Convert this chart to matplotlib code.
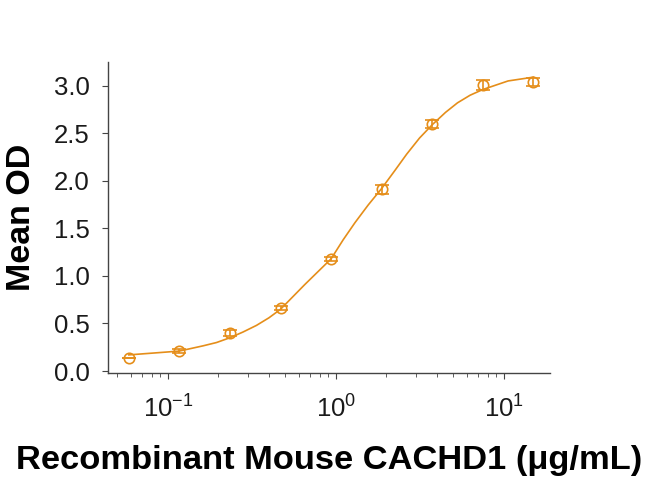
import matplotlib
matplotlib.use("Agg")
import matplotlib.pyplot as plt
from matplotlib.ticker import LogLocator, FixedLocator

plt.rcParams['font.family'] = ['Liberation Sans', 'DejaVu Sans']
plt.rcParams['mathtext.fontset'] = 'custom'
plt.rcParams['mathtext.rm'] = 'Liberation Sans'
plt.rcParams['mathtext.it'] = 'Liberation Sans'

# concentration (ug/mL), mean OD and error
conc = [0.0586, 0.117, 0.234, 0.469, 0.9375, 1.875, 3.75, 7.5, 15]
mean_od = [0.136, 0.21, 0.40, 0.66, 1.18, 1.91, 2.60, 3.01, 3.04]
err = [0.0, 0.02, 0.03, 0.02, 0.02, 0.05, 0.04, 0.05, 0.04]

# fitted curve
curve_x = [0.0586, 0.083, 0.117, 0.162, 0.195, 0.234, 0.28, 0.337, 0.40,
           0.469, 0.654, 0.9375, 1.106, 1.30, 1.557, 1.875, 2.25, 2.64,
           3.15, 3.75, 4.5, 5.3, 6.3, 7.5, 10.6, 15]
curve_y = [0.17, 0.19, 0.21, 0.265, 0.30, 0.35, 0.41, 0.48, 0.56,
           0.65, 0.91, 1.18, 1.38, 1.56, 1.745, 1.92, 2.11, 2.28,
           2.45, 2.59, 2.72, 2.82, 2.90, 2.96, 3.05, 3.09]

yticks = [0.0, 0.5, 1.0, 1.5, 2.0, 2.5, 3.0]

orange = '#E58E1A'

fig = plt.figure(figsize=(6.5, 4.8), dpi=100)
ax = fig.add_axes([0.166, 0.223, 0.680, 0.648])

ax.plot(curve_x, curve_y, color=orange, lw=1.2)
ax.errorbar(conc, mean_od, yerr=err, fmt='o', mfc='none', mec=orange,
            ecolor=orange, ms=7.5, mew=1.2, capsize=5, elinewidth=1.2,
            capthick=1.2, zorder=3)

ax.set_xscale('log')
ax.set_xlim(0.044, 18.8)
ax.set_ylim(-0.02, 3.25)
ax.yaxis.set_major_locator(FixedLocator(yticks))
ax.set_yticklabels(['%.1f' % v for v in yticks])
ax.xaxis.set_major_locator(LogLocator(base=10))
ax.xaxis.set_minor_locator(LogLocator(base=10, subs=range(2, 10)))

for s in ['top', 'right']:
    ax.spines[s].set_visible(False)
for s in ['left', 'bottom']:
    ax.spines[s].set_color('#444444')
    ax.spines[s].set_linewidth(1.0)

ax.tick_params(axis='both', which='major', direction='out', length=4,
               color='#444444', labelsize=18.5, labelcolor='#1a1a1a')
ax.tick_params(axis='y', which='major', pad=9)
ax.tick_params(axis='x', which='major', pad=12)
ax.tick_params(axis='x', which='minor', direction='out', length=3,
               color='#444444')

ax.set_ylabel('Mean OD', fontsize=24.5, fontweight='bold', labelpad=12)
ax.set_xlabel('Recombinant Mouse CACHD1 (μg/mL)', fontsize=24.8,
              fontweight='bold', labelpad=16)

fig.savefig('out.png', dpi=100)
